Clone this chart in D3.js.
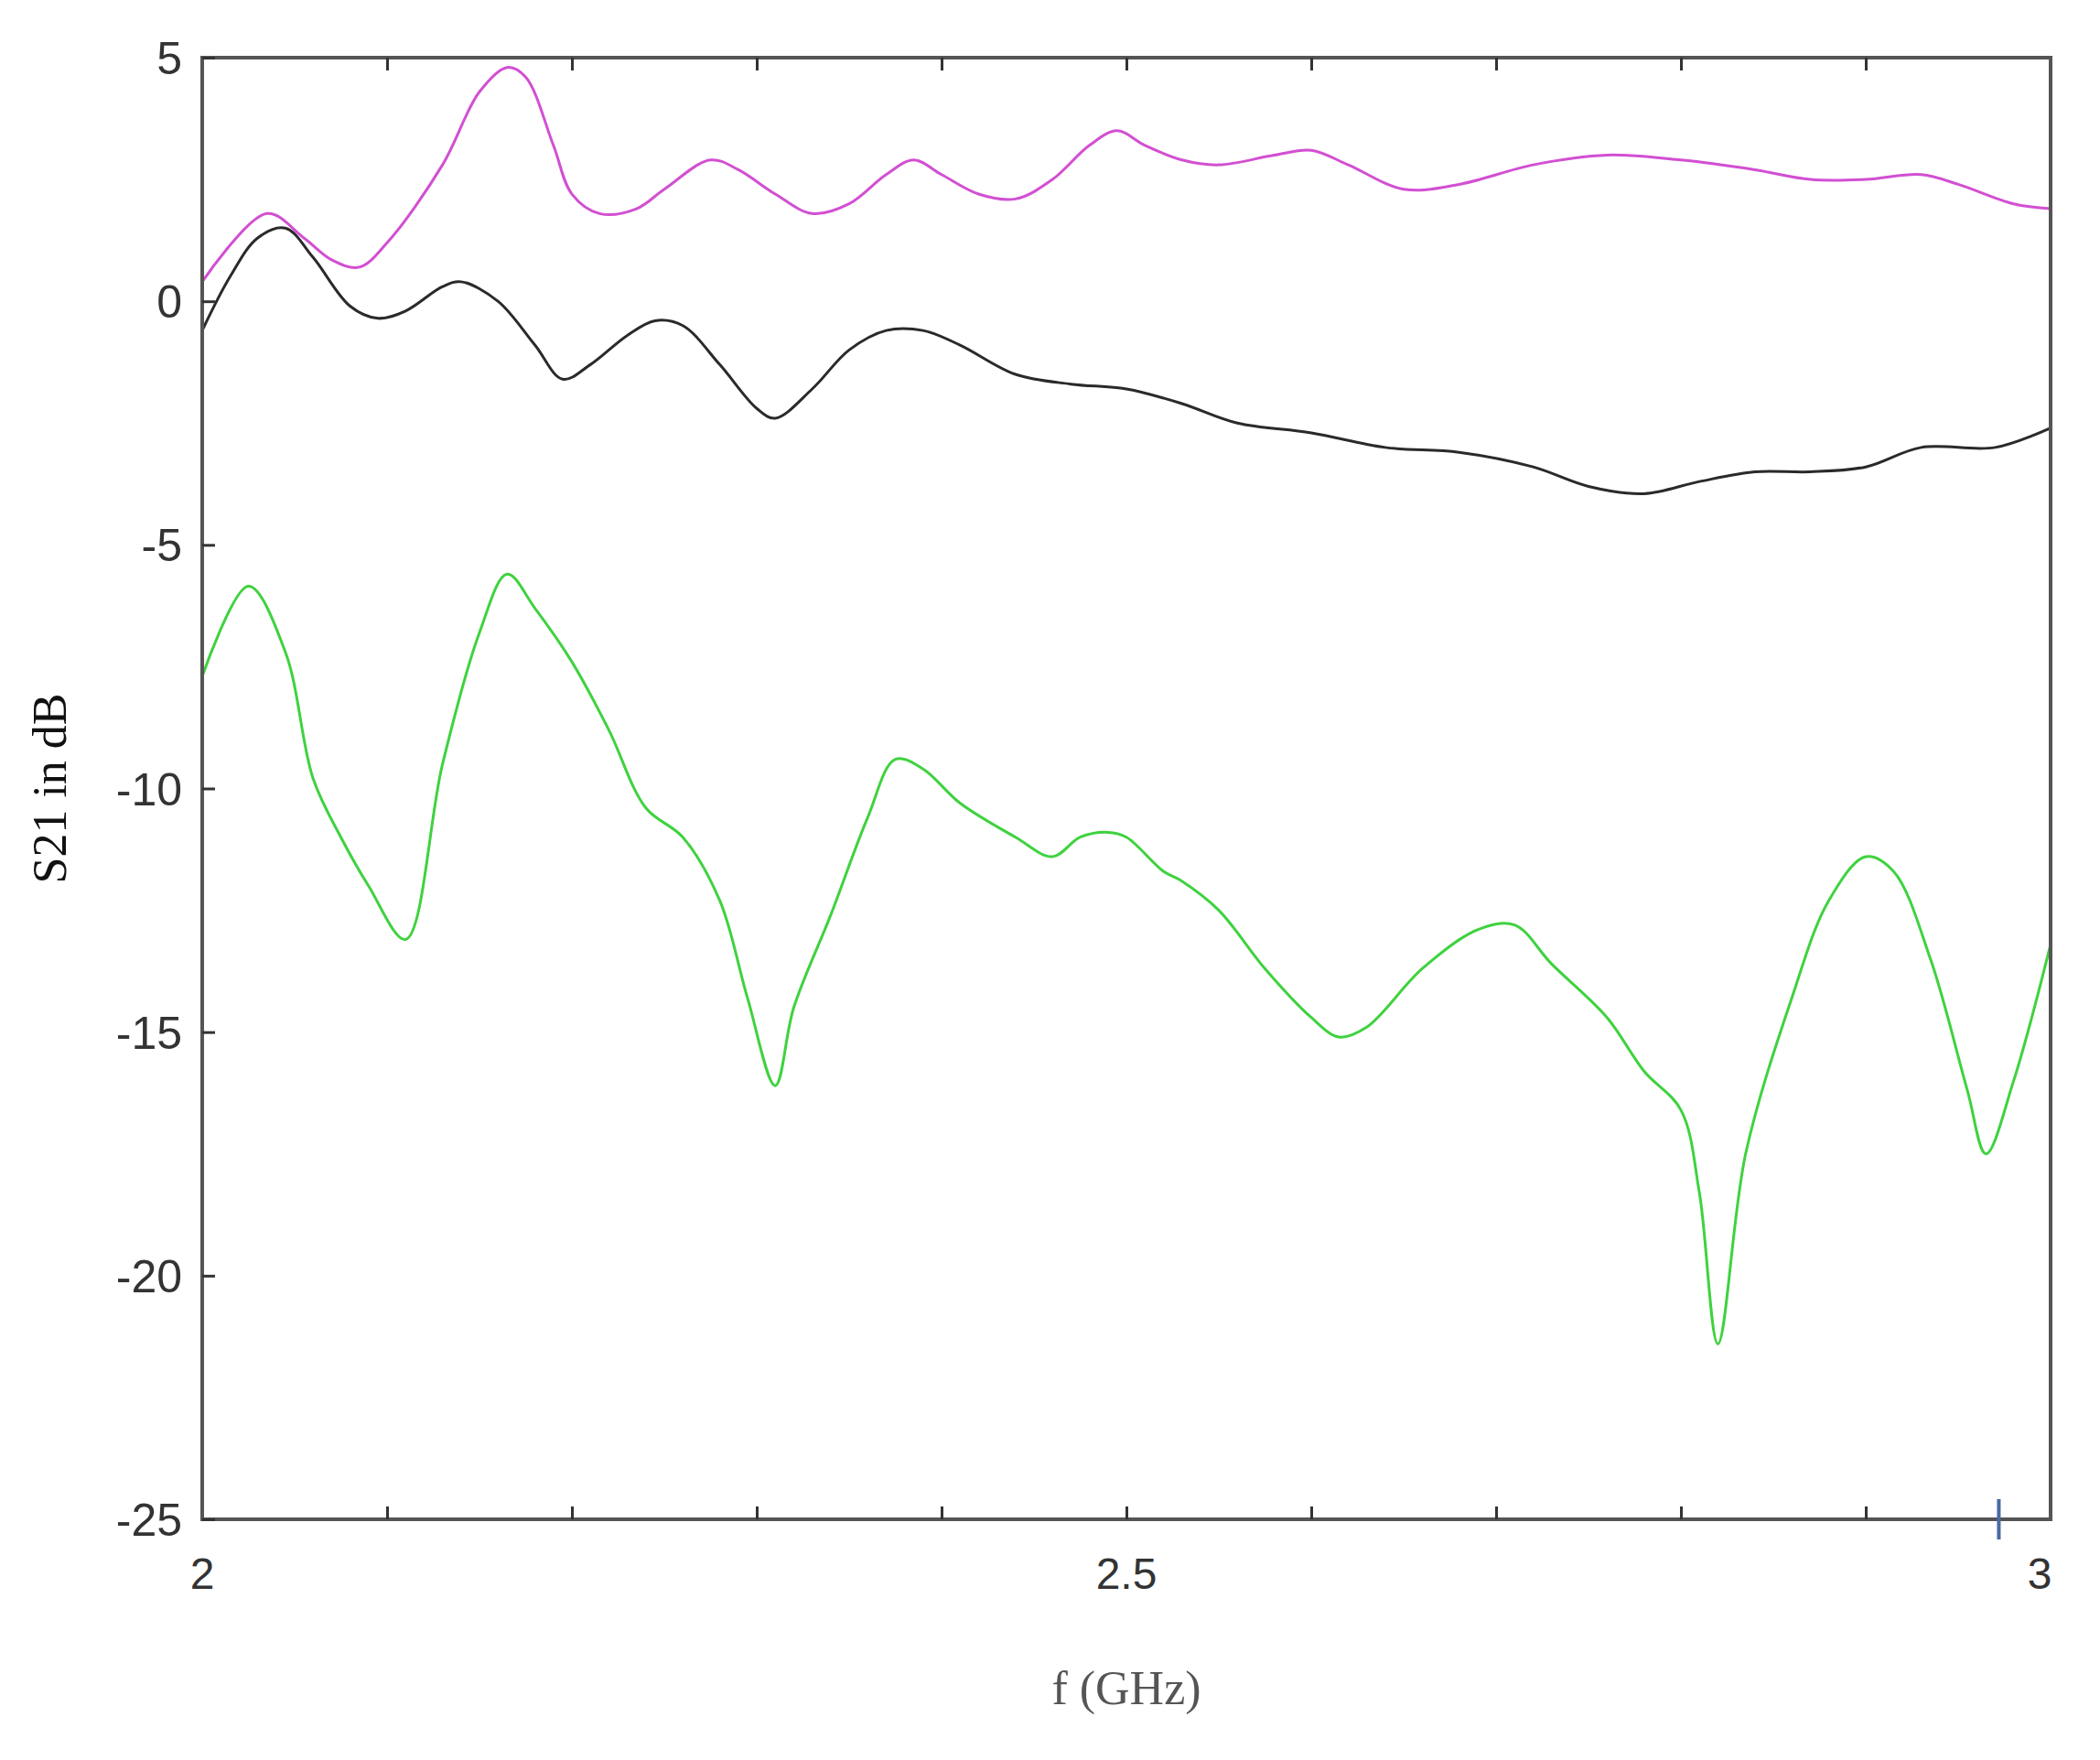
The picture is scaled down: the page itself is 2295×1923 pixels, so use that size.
<!DOCTYPE html>
<html>
<head>
<meta charset="utf-8">
<script src="https://cdn.jsdelivr.net/npm/d3@7"></script>
<style>body{margin:0;background:#fff}</style>
</head>
<body>
<svg id="chart" width="2295" height="1923"></svg>
<script>
// S21 curves, frequency in GHz, value in dB
const magenta = [[2.0,0.4],[2.035,1.8],[2.055,1.3],[2.07,0.85],[2.085,0.7],[2.1,1.2],[2.13,2.8],[2.15,4.3],[2.165,4.8],[2.175,4.6],[2.19,3.2],[2.2,2.2],[2.215,1.8],[2.235,1.9],[2.25,2.3],[2.275,2.9],[2.29,2.7],[2.31,2.2],[2.33,1.8],[2.35,2.0],[2.37,2.6],[2.385,2.9],[2.4,2.6],[2.42,2.2],[2.44,2.1],[2.46,2.5],[2.48,3.2],[2.495,3.5],[2.51,3.2],[2.53,2.9],[2.55,2.8],[2.58,3.0],[2.6,3.1],[2.62,2.8],[2.65,2.3],[2.68,2.4],[2.72,2.8],[2.76,3.0],[2.8,2.9],[2.84,2.7],[2.87,2.5],[2.9,2.5],[2.93,2.6],[2.95,2.4],[2.98,2.0],[3.0,1.9]];
const black = [[2.0,-0.6],[2.015,0.5],[2.03,1.3],[2.045,1.5],[2.06,0.9],[2.08,-0.1],[2.095,-0.35],[2.11,-0.2],[2.13,0.3],[2.14,0.4],[2.16,0.0],[2.18,-0.9],[2.195,-1.6],[2.21,-1.3],[2.23,-0.7],[2.245,-0.4],[2.26,-0.5],[2.28,-1.3],[2.3,-2.2],[2.31,-2.4],[2.33,-1.8],[2.35,-1.0],[2.37,-0.6],[2.39,-0.6],[2.41,-0.9],[2.44,-1.5],[2.47,-1.7],[2.5,-1.8],[2.53,-2.1],[2.56,-2.5],[2.6,-2.7],[2.64,-3.0],[2.68,-3.1],[2.72,-3.4],[2.75,-3.8],[2.78,-3.95],[2.81,-3.7],[2.84,-3.5],[2.87,-3.5],[2.9,-3.4],[2.93,-3.0],[2.97,-3.0],[3.0,-2.6]];
const green = [[2.0,-7.7],[2.025,-5.85],[2.045,-7.2],[2.06,-9.8],[2.075,-11.0],[2.09,-12.0],[2.11,-13.1],[2.13,-9.5],[2.15,-6.8],[2.165,-5.6],[2.18,-6.3],[2.2,-7.4],[2.22,-8.8],[2.24,-10.4],[2.26,-11.0],[2.28,-12.3],[2.295,-14.3],[2.31,-16.1],[2.32,-14.5],[2.34,-12.6],[2.36,-10.6],[2.375,-9.4],[2.39,-9.6],[2.41,-10.3],[2.44,-11.0],[2.46,-11.4],[2.475,-11.0],[2.49,-10.9],[2.5,-11.0],[2.52,-11.7],[2.53,-11.9],[2.55,-12.5],[2.575,-13.7],[2.6,-14.7],[2.615,-15.1],[2.63,-14.9],[2.66,-13.7],[2.69,-12.9],[2.71,-12.8],[2.73,-13.6],[2.76,-14.7],[2.78,-15.8],[2.8,-16.6],[2.81,-18.3],[2.82,-21.4],[2.835,-17.5],[2.86,-14.3],[2.88,-12.3],[2.9,-11.4],[2.915,-11.7],[2.935,-13.5],[2.955,-16.2],[2.965,-17.5],[2.98,-16.0],[3.0,-13.2]];
const yTicks = [5, 0, -5, -10, -15, -20, -25];
const xLabels = [2, 2.5, 3];
const xMinor = d3.range(2.1, 3.0, 0.1);

const svg = d3.select("#chart");
const margin = { left: 221, right: 54, top: 63, bottom: 263 };
const W = 2295, H = 1923;

const x = d3.scaleLinear().domain([2, 3]).range([margin.left, W - margin.right]);
const y = d3.scaleLinear().domain([-25, 5]).range([H - margin.bottom, margin.top]);

const line = d3.line()
  .x(d => x(d[0]))
  .y(d => y(d[1]))
  .curve(d3.curveCatmullRom);

[[green, "#3fd23f"], [black, "#2a2a2a"], [magenta, "#d24fd2"]].forEach(([data, color]) => {
  svg.append("path")
    .datum(data)
    .attr("fill", "none")
    .attr("stroke", color)
    .attr("stroke-width", 3)
    .attr("d", line);
});

// frame
svg.append("rect")
  .attr("x", x(2)).attr("y", y(5))
  .attr("width", x(3) - x(2)).attr("height", y(-25) - y(5))
  .attr("fill", "none").attr("stroke", "#555").attr("stroke-width", 4);

// inward ticks
const gBottom = svg.append("g").attr("transform", `translate(0,${y(-25)})`)
  .call(d3.axisBottom(x).tickValues(xMinor).tickSize(-14).tickFormat(""));
const gTop = svg.append("g").attr("transform", `translate(0,${y(5)})`)
  .call(d3.axisTop(x).tickValues(xMinor).tickSize(-14).tickFormat(""));
const gLeft = svg.append("g").attr("transform", `translate(${x(2)},0)`)
  .call(d3.axisLeft(y).tickValues(yTicks).tickSize(-14).tickFormat(""));
[gBottom, gTop, gLeft].forEach(g => {
  g.select(".domain").remove();
  g.selectAll("line").attr("stroke", "#333").attr("stroke-width", 3);
});

// stray blue tick near 3 GHz
svg.append("line")
  .attr("x1", x(2.972)).attr("x2", x(2.972))
  .attr("y1", y(-25) - 22).attr("y2", y(-25) + 22)
  .attr("stroke", "#4a6aa0").attr("stroke-width", 4);

svg.selectAll(".ylab").data(yTicks).join("text")
  .attr("x", x(2) - 22).attr("y", d => y(d))
  .attr("dy", "0.36em").attr("text-anchor", "end")
  .attr("font-family", "Liberation Sans, Arial, sans-serif")
  .attr("font-size", 50).attr("fill", "#333")
  .text(d => d);

svg.selectAll(".xlab").data(xLabels).join("text")
  .attr("x", d => d === 3 ? x(d) - 12 : x(d)).attr("y", y(-25) + 76)
  .attr("text-anchor", "middle")
  .attr("font-family", "Liberation Sans, Arial, sans-serif")
  .attr("font-size", 48).attr("fill", "#333")
  .text(d => d);

svg.append("text")
  .attr("x", x(2.5)).attr("y", 1862)
  .attr("text-anchor", "middle")
  .attr("font-family", "Liberation Serif, Times New Roman, serif")
  .attr("font-size", 52).attr("fill", "#555")
  .text("f (GHz)");

svg.append("text")
  .attr("transform", `translate(72,${y(-10)}) rotate(-90)`)
  .attr("text-anchor", "middle")
  .attr("font-family", "Liberation Serif, Times New Roman, serif")
  .attr("font-size", 52).attr("fill", "#111")
  .text("S21 in dB");
</script>
</body>
</html>
